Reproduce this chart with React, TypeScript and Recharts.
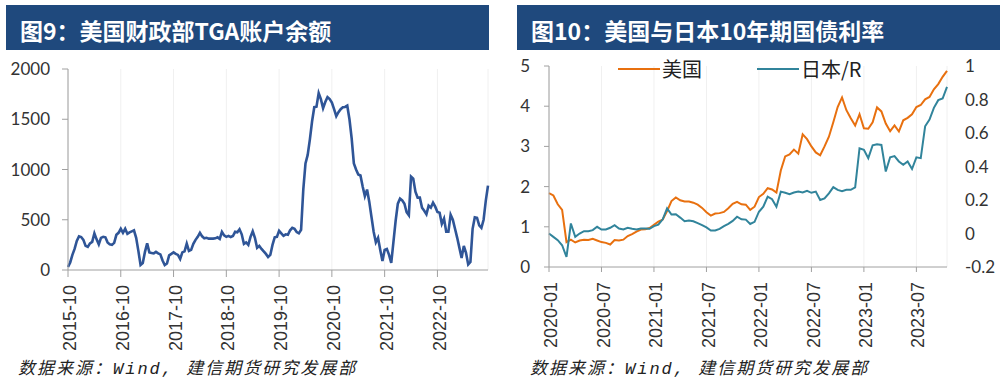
import { LineChart, Line, XAxis, YAxis, CartesianGrid, Legend } from "recharts";

// 图9: TGA balance, half-month samples starting 2015-10
const tgaStart = { year: 2015, month: 10 };
const tgaValues = [
  30, 75, 150, 210, 290, 335, 328, 300, 240, 230,
  265, 280, 365, 305, 255, 320, 330, 325, 275, 255,
  250, 270, 350, 370, 410, 370, 410, 360, 375, 385,
  395, 320, 190, 50, 70, 180, 265, 175, 170, 165,
  180, 165, 155, 95, 50, 65, 146, 160, 175, 160,
  150, 110, 175, 185, 262, 190, 200, 260, 300, 330,
  370, 335, 315, 320, 312, 312, 312, 315, 325, 310,
  380, 345, 330, 340, 328, 338, 380, 375, 405, 355,
  260, 275, 250, 330, 385, 320, 220, 240, 210, 185,
  160, 129, 150, 250, 325, 330, 390, 365, 340, 355,
  350, 395, 420, 410, 378, 365, 400, 800, 1060, 1145,
  1300, 1480, 1620, 1625, 1760, 1700, 1610, 1672, 1720, 1700,
  1665, 1600, 1530, 1570, 1600, 1620, 1622, 1635, 1500, 1310,
  1060, 1000, 950, 940, 830, 735, 800, 680, 530, 380,
  275, 320, 200, 90, 200, 210, 150, 70, 280, 490,
  660, 710, 693, 660, 575, 545, 930, 910, 780, 720,
  720, 620, 590, 555, 640, 620, 670, 630, 577, 570,
  460, 511, 380, 380, 550, 500, 410, 320, 220, 120,
  240, 170, 55, 80, 410, 525, 520, 444, 420, 500,
  690, 840,
];
const tgaTicks = [0, 12, 24, 36, 48, 60, 72, 84];
const tgaYTicks = [0, 500, 1000, 1500, 2000];

// 图10: 10y yields, half-month samples starting 2020-01
const bondStart = { year: 2020, month: 1 };
const usYield = [
  1.84, 1.78, 1.56, 1.42, 0.62, 0.68, 0.61, 0.66, 0.68, 0.67,
  0.70, 0.66, 0.62, 0.60, 0.56, 0.67, 0.66, 0.68, 0.77, 0.82,
  0.88, 0.93, 0.94, 0.97, 1.05, 1.13, 1.18, 1.39, 1.64, 1.73,
  1.66, 1.63, 1.63, 1.60, 1.55, 1.47, 1.36, 1.28, 1.33, 1.34,
  1.37, 1.46, 1.57, 1.62, 1.56, 1.55, 1.42, 1.50, 1.74, 1.82,
  1.96, 1.93, 1.85, 2.40, 2.75, 2.80, 2.92, 2.82, 3.30, 3.18,
  3.00, 2.85, 2.78, 3.00, 3.24, 3.60, 3.98, 4.22, 3.90, 3.70,
  3.52, 3.80, 3.45, 3.44, 3.60, 3.97, 3.87, 3.57, 3.38, 3.52,
  3.37, 3.65, 3.71, 3.80, 3.98, 4.03, 4.17, 4.23, 4.42, 4.55,
  4.73, 4.88,
];
const jpYield = [
  0.0, -0.02, -0.04, -0.07, -0.14, 0.06, -0.02, 0.0, 0.014, 0.014,
  0.02, 0.04, 0.024, 0.024, 0.034, 0.05, 0.03, 0.024, 0.034, 0.028,
  0.024, 0.03, 0.03, 0.028, 0.044, 0.053, 0.085, 0.15, 0.113, 0.115,
  0.095, 0.073, 0.078, 0.073, 0.062, 0.05, 0.036, 0.018, 0.018, 0.028,
  0.044, 0.058, 0.075, 0.1, 0.085, 0.083, 0.057, 0.07, 0.13, 0.16,
  0.22, 0.205, 0.16, 0.25, 0.243, 0.235, 0.245, 0.25, 0.245, 0.255,
  0.243, 0.25, 0.2, 0.21, 0.24, 0.277, 0.26, 0.253, 0.261, 0.261,
  0.275, 0.509, 0.5, 0.45, 0.527, 0.533, 0.529, 0.37, 0.455, 0.462,
  0.43, 0.41, 0.43, 0.385, 0.455, 0.45, 0.64, 0.68, 0.75, 0.796,
  0.806, 0.875,
];
const bondTicks = [0, 6, 12, 18, 24, 30, 36, 42];
const usAxisTicks = [0, 1, 2, 3, 4, 5];
const jpAxisTicks = [-0.2, 0, 0.2, 0.4, 0.6, 0.8, 1];
const seriesNames = ["美国", "日本/R"];

const tgaColor = "#2F5597";
const usColor = "#E8700F";
const jpColor = "#31849B";
const axisColor = "#A0A0A0";
const labelColor = "#333";
const barColor = "#1F497D";
const seriesColors = [usColor, jpColor];

const tgaData = tgaValues.map((v, i) => ({ m: i / 2, v }));
const bondData = usYield.map((us, i) => ({ m: i / 2, us, jp: jpYield[i] }));

function monthLabel(start: { year: number; month: number }, m: number) {
  const t = start.year * 12 + start.month - 1 + m;
  const y = Math.floor(t / 12);
  const mo = (t % 12) + 1;
  return `${y}-${String(mo).padStart(2, "0")}`;
}

function DateTick({ x, y, payload, start }: any) {
  return (
    <text
      x={x}
      y={y}
      dy="0.45em"
      transform={`rotate(-90 ${x} ${y})`}
      textAnchor="end"
      fill={labelColor}
      fontSize={18}
      fontFamily="'Liberation Sans', Arial, sans-serif"
    >
      {monthLabel(start, payload.value)}
    </text>
  );
}

const numTick = { fill: labelColor, fontSize: 17, fontFamily: "Lato, sans-serif" };

// legend drawn in series order (recharts sorts its payload by name)
function BondLegend() {
  return (
    <div style={{ display: "flex", alignItems: "center" }}>
      {seriesNames.map((name, i) => (
        <div key={name} style={{ display: "flex", alignItems: "center", width: i === 0 ? 139 : undefined }}>
          <span style={{ display: "inline-block", width: 42, height: 2.5, background: seriesColors[i] }} />
          <span style={{ marginLeft: 2, fontSize: 20, color: "#222", fontFamily: "'Noto Sans CJK SC', sans-serif", lineHeight: "24px" }}>
            {name}
          </span>
        </div>
      ))}
    </div>
  );
}

function TitleBar({ left, width, text }: any) {
  return (
    <div
      style={{
        position: "absolute",
        left,
        top: 5,
        width,
        height: 45,
        background: barColor,
        color: "#fff",
        fontFamily: "'Noto Sans CJK SC', sans-serif",
        fontWeight: 700,
        fontSize: 23,
        lineHeight: "45px",
        paddingLeft: 14,
        boxSizing: "border-box",
        paddingTop: 3,
      }}
    >
      {text}
    </div>
  );
}

function Source({ left }: any) {
  return (
    <div
      style={{
        position: "absolute",
        left,
        top: 360,
        fontSize: 17,
        lineHeight: "20px",
        fontStyle: "italic",
        letterSpacing: 2,
        color: "#222",
        fontFamily: "'Liberation Mono', 'Noto Sans CJK SC', monospace",
        whiteSpace: "nowrap",
      }}
    >
      数据来源：Wind, 建信期货研究发展部
    </div>
  );
}

export default function App() {
  return (
    <div style={{ position: "absolute", left: 0, top: 0, width: 1005, height: 387, background: "#fff", overflow: "hidden" }}>
      <div style={{ position: "absolute", left: 0, top: 0 }}>
        <LineChart width={500} height={387} data={tgaData} margin={{ top: 69, right: 12, bottom: 17, left: 0 }}>
          <CartesianGrid horizontal={false} stroke="#F0F0F0" />
          <XAxis
            dataKey="m"
            type="number"
            domain={[0, (tgaValues.length - 1) / 2]}
            ticks={tgaTicks}
            height={100}
            tickSize={7}
            tickMargin={8}
            stroke={axisColor}
            tick={(props: any) => <DateTick {...props} start={tgaStart} />}
            interval={0}
          />
          <YAxis
            domain={[0, 2000]}
            ticks={tgaYTicks}
            width={68}
            tickSize={6}
            tickMargin={12}
            stroke={axisColor}
            tick={numTick}
            interval={0}
          />
          <Line type="linear" dataKey="v" stroke={tgaColor} strokeWidth={2.6} dot={false} isAnimationActive={false} />
        </LineChart>
      </div>

      <div style={{ position: "absolute", left: 500, top: 0 }}>
        <LineChart width={505} height={387} data={bondData} margin={{ top: 66, right: 0, bottom: 20, left: 0 }}>
          <CartesianGrid horizontal={false} stroke="#F0F0F0" />
          <XAxis
            dataKey="m"
            type="number"
            domain={[0, (usYield.length - 1) / 2]}
            ticks={bondTicks}
            height={100}
            tickSize={5}
            tickMargin={10}
            stroke={axisColor}
            tick={(props: any) => <DateTick {...props} start={bondStart} />}
            interval={0}
          />
          <YAxis
            yAxisId="us"
            domain={[0, 5]}
            ticks={usAxisTicks}
            width={49}
            tickSize={5}
            tickMargin={14}
            stroke={axisColor}
            tick={numTick}
            interval={0}
          />
          <YAxis
            yAxisId="jp"
            orientation="right"
            domain={[-0.2, 1]}
            ticks={jpAxisTicks}
            width={58}
            axisLine={false}
            tickLine={false}
            tickSize={0}
            tickMargin={18}
            tick={{ ...numTick, textAnchor: "start" }}
            interval={0}
          />
          <Legend
            layout="vertical"
            align="center"
            verticalAlign="middle"
            wrapperStyle={{ top: 57, left: 118, width: 300 }}
            content={BondLegend}
          />
          <Line yAxisId="us" type="linear" dataKey="us" name={seriesNames[0]} stroke={usColor} strokeWidth={2} dot={false} isAnimationActive={false} />
          <Line yAxisId="jp" type="linear" dataKey="jp" name={seriesNames[1]} stroke={jpColor} strokeWidth={2} dot={false} isAnimationActive={false} />
        </LineChart>
      </div>

      <TitleBar left={6} width={483} text="图9：美国财政部TGA账户余额" />
      <TitleBar left={517} width={483} text="图10：美国与日本10年期国债利率" />
      <Source left={18} />
      <Source left={530} />
    </div>
  );
}
